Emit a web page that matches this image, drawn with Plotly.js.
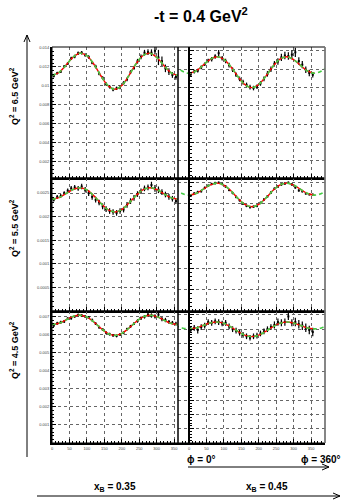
<!DOCTYPE html>
<html><head><meta charset="utf-8">
<script src="https://cdn.plot.ly/plotly-3.0.1.min.js"></script>
<style>html,body{margin:0;padding:0;background:#fff;}#chart{width:342px;height:501px;}</style>
</head><body><div id="chart"></div>
<script>
// ---- data ----
const phiData = [5,15,25,35,45,55,65,75,85,95,105,115,125,135,145,155,165,175,185,195,205,215,225,235,245,255,265,275,285,295,305,315,325,335,345,355];
const phiCurveLeft = [0,20,40,60,80,100,120,140,160,180,200,220,240,260,280,300,320,340,360];
const phiCurveRight = [-40,-20,0,20,40,60,80,100,120,140,160,180,200,220,240,260,280,300,320,340,360,380,400];

// Q2 = 6.5, xB = 0.35
const tlCurve = [0.011105,0.011415,0.012182,0.013008,0.013435,0.013183,0.012282,0.011072,0.010051,0.009655,0.010051,0.011072,0.012282,0.013183,0.013435,0.013008,0.012182,0.011415,0.011105];
const tlData = [0.01105,0.01135,0.0115,0.01205,0.01235,0.0129,0.0131,0.01345,0.0135,0.01325,0.01305,0.01245,0.01205,0.0113,0.01085,0.0102,0.0099,0.00962,0.00975,0.00985,0.0103,0.0107,0.01145,0.0119,0.0126,0.01305,0.0135,0.01355,0.0135,0.0137,0.013,0.0126,0.01185,0.0115,0.01115,0.01095];
const tlErr = [0.00015,0.00015,0.00015,0.00015,0.00015,0.00018,0.00018,0.00018,0.00018,0.00018,0.00018,0.00018,0.00018,0.00018,0.00018,0.00018,0.00018,0.00018,0.00018,0.0002,0.0002,0.0002,0.0002,0.0002,0.00025,0.00025,0.0003,0.0003,0.00035,0.0004,0.0008,0.0005,0.0004,0.00035,0.0003,0.0003];
// Q2 = 6.5, xB = 0.45
const trCurve = [0.012422,0.011813,0.011565,0.011813,0.012422,0.013063,0.013361,0.013087,0.012277,0.01122,0.010337,0.009995,0.010337,0.01122,0.012277,0.013087,0.013361,0.013063,0.012422,0.011813,0.011565,0.011813,0.012422];
const trData = [0.01145,0.01175,0.01185,0.0122,0.01255,0.01295,0.0131,0.0134,0.01375,0.0132,0.0129,0.01245,0.01195,0.0114,0.01095,0.0106,0.0103,0.01005,0.00995,0.0101,0.01045,0.01095,0.0115,0.012,0.0126,0.01285,0.0133,0.0135,0.01345,0.0136,0.01385,0.0129,0.0125,0.01195,0.0116,0.0114];
const trErr = [0.0002,0.0002,0.0002,0.0002,0.0002,0.0002,0.00025,0.00025,0.00035,0.00025,0.00025,0.00025,0.00025,0.00025,0.00025,0.00025,0.00025,0.00025,0.00025,0.00025,0.00025,0.00025,0.0003,0.0003,0.0003,0.00035,0.0004,0.0004,0.0004,0.0005,0.0005,0.0004,0.0004,0.00035,0.00035,0.0003];
// Q2 = 5.5, xB = 0.35
const mlCurve = [0.00237,0.0024045,0.002489,0.002576,0.002613,0.002566,0.002441,0.002282,0.00215,0.0021,0.00215,0.002282,0.002441,0.002566,0.002613,0.002576,0.002489,0.0024045,0.00237];
const mlData = [0.00236,0.00242,0.00244,0.0025,0.00255,0.0026,0.00262,0.0026,0.00264,0.00257,0.0025,0.00242,0.00236,0.0023,0.00222,0.00216,0.00212,0.0021,0.00208,0.00212,0.00215,0.00225,0.00233,0.0024,0.00248,0.00254,0.0026,0.00262,0.00267,0.0026,0.00257,0.00252,0.00247,0.00242,0.00238,0.00233];
const mlErr = [0.00004,0.00004,0.00004,0.00004,0.00005,0.00005,0.00005,0.00005,0.00006,0.00006,0.00006,0.00006,0.00006,0.00006,0.00006,0.00006,0.00006,0.00006,0.00006,0.00006,0.00006,0.00006,0.00006,0.00006,0.00006,0.00006,0.00006,0.00006,0.00007,0.00007,0.00007,0.00006,0.00006,0.00006,0.00006,0.00006];
// Q2 = 5.5, xB = 0.45
const mrCurve = [0.002836,0.002739,0.0027,0.002739,0.002836,0.002936,0.002981,0.002934,0.002801,0.002629,0.002485,0.00243,0.002485,0.002629,0.002801,0.002934,0.002981,0.002936,0.002836,0.002739,0.0027,0.002739,0.002836];
const mrData = [0.00269,0.00274,0.00277,0.00279,0.00287,0.00292,0.00296,0.00298,0.00299,0.00296,0.0029,0.00282,0.00275,0.00266,0.00258,0.0025,0.00245,0.00242,0.00243,0.00245,0.00252,0.0026,0.00267,0.00276,0.00285,0.0029,0.00295,0.00297,0.00299,0.00295,0.00288,0.00281,0.00279,0.00274,0.00272,0.00271];
const mrErr = [0.00003,0.00003,0.00003,0.00003,0.00003,0.00003,0.00003,0.00003,0.00003,0.00003,0.00003,0.00003,0.00003,0.00003,0.00003,0.00003,0.00003,0.00003,0.00003,0.00003,0.00003,0.00003,0.00003,0.00003,0.00003,0.00003,0.00003,0.00003,0.00003,0.00003,0.00003,0.00003,0.00003,0.00003,0.00003,0.00003];
// Q2 = 4.5, xB = 0.35
const blCurve = [0.00655,0.006624,0.006806,0.006993,0.007068,0.006964,0.006693,0.006346,0.00606,0.00595,0.00606,0.006346,0.006693,0.006964,0.007068,0.006993,0.006806,0.006624,0.00655];
const blData = [0.0065,0.00662,0.00668,0.00672,0.00688,0.0069,0.007,0.00708,0.00705,0.007,0.00695,0.0068,0.0066,0.0064,0.00628,0.0061,0.00602,0.00595,0.00592,0.006,0.0061,0.0063,0.00645,0.0066,0.00675,0.0069,0.00698,0.0071,0.00705,0.007,0.0071,0.00685,0.0068,0.0067,0.00665,0.0066];
const blErr = [0.00008,0.00008,0.00008,0.00008,0.00008,0.00008,0.00008,0.00008,0.00008,0.00008,0.00008,0.00008,0.00008,0.00008,0.00008,0.00008,0.00008,0.00008,0.00008,0.00008,0.00008,0.00008,0.00008,0.00008,0.0001,0.0001,0.0001,0.00012,0.00012,0.00012,0.00014,0.00012,0.00012,0.0001,0.0001,0.0001];
// Q2 = 4.5, xB = 0.45
const brCurve = [0.008259,0.008089,0.00802,0.008089,0.008259,0.008433,0.008505,0.008411,0.008163,0.007845,0.007581,0.00748,0.007581,0.007845,0.008163,0.008411,0.008505,0.008433,0.008259,0.008089,0.00802,0.008089,0.008259];
const brData = [0.00795,0.0081,0.00795,0.00815,0.00825,0.0085,0.00845,0.00855,0.0085,0.0084,0.00845,0.0082,0.008,0.0079,0.00775,0.0076,0.0075,0.0074,0.0075,0.00755,0.0077,0.00785,0.008,0.00815,0.0083,0.0085,0.00845,0.0085,0.0089,0.00845,0.0085,0.00835,0.00825,0.0081,0.00795,0.0078];
const brErr = [0.0002,0.0002,0.00025,0.0002,0.0002,0.0002,0.0002,0.0002,0.0002,0.0002,0.0002,0.0002,0.0002,0.0002,0.0002,0.0002,0.0002,0.0002,0.0002,0.0002,0.0002,0.0002,0.0002,0.0002,0.00025,0.00025,0.00025,0.00025,0.00025,0.00025,0.0003,0.0003,0.0003,0.0003,0.0003,0.0003];

// tick labels
const xTicks = [0,50,100,150,200,250,300,350];
const xTickText = ["0","50","100","150","200","250","300","350"];
const topTicks = [0.002,0.004,0.006,0.008,0.01,0.012,0.014];
const topTickText = ["0.002","0.004","0.006","0.008","0.01","0.012","0.014"];
const midTicksL = [0.0005,0.001,0.0015,0.002,0.0025];
const midTickTextL = ["0.0005","0.001","0.0015","0.002","0.0025"];
const midTicksR = [0.0005,0.001,0.0015,0.002,0.0025,0.003];
const botTicksL = [0.001,0.002,0.003,0.004,0.005,0.006,0.007];
const botTickTextL = ["0.001","0.002","0.003","0.004","0.005","0.006","0.007"];
const botTicksR = [0.001,0.002,0.003,0.004,0.005,0.006,0.007,0.008,0.009];

// text
const titleText = "<b>-t = 0.4 GeV<sup>2</sup></b>";
const q2Labels = ["<b>Q<sup>2</sup> = 6.5 GeV<sup>2</sup></b>","<b>Q<sup>2</sup> = 5.5 GeV<sup>2</sup></b>","<b>Q<sup>2</sup> = 4.5 GeV<sup>2</sup></b>"];
const xbLabels = ["<b>x<sub>B</sub> = 0.35</b>","<b>x<sub>B</sub> = 0.45</b>"];
const phiLabels = ["<b>ϕ = 0°</b>","<b>ϕ = 360°</b>"];

// ---- layout helpers ----
const W = 342, H = 501;
const FONT = "Liberation Sans, Arial, sans-serif";
const fx = v => v / W, fy = v => 1 - v / H;
const colL = [fx(52), fx(178)], colR = [fx(178), fx(325)];
const rowT = [fy(178), fy(47)], rowM = [fy(311), fy(178)], rowB = [fy(443), fy(311)];
const rangeL = [0, 361], rangeR = [-31.6, 390.1];

function xAxis(domain, range, anchor, labels) {
  return {domain, range, anchor, tickmode:'array', tickvals:xTicks, ticktext:xTickText,
    showticklabels:labels, tickfont:{size:4, color:'#444', family:FONT},
    ticks:'inside', ticklen:4, tickwidth:1, tickcolor:'#000',
    showline:true, linecolor:'#000', linewidth:2, mirror:false,
    showgrid:true, gridcolor:'#666', griddash:'dot', gridwidth:1, zeroline:false,
    minor:{ticks:'inside', ticklen:2, dtick:10, tick0:0, tickcolor:'#000', tickwidth:1, showgrid:false},
    fixedrange:true};
}
function yAxis(domain, range, anchor, tv, tt, labels, mdt, position) {
  const a = {domain, range, anchor, tickmode:'array', tickvals:tv, ticktext:tt || tv.map(String),
    showticklabels:labels, tickfont:{size:4, color:'#444', family:FONT},
    ticks:'inside', ticklen:4, tickwidth:1, tickcolor:'#000',
    showline:true, linecolor:'#000', linewidth:2,
    showgrid:true, gridcolor:'#666', griddash:'dot', gridwidth:1, zeroline:false,
    minor:{ticks:'inside', ticklen:2, dtick:mdt, tick0:0, tickcolor:'#000', tickwidth:1, showgrid:false},
    fixedrange:true};
  if (position !== undefined) { a.anchor = 'free'; a.position = position; }
  return a;
}

const panels = [
  {xa:'x',  ya:'y',  data:tlData, err:tlErr, curve:tlCurve, right:false},
  {xa:'x2', ya:'y2', data:trData, err:trErr, curve:trCurve, right:true},
  {xa:'x3', ya:'y3', data:mlData, err:mlErr, curve:mlCurve, right:false},
  {xa:'x4', ya:'y4', data:mrData, err:mrErr, curve:mrCurve, right:true},
  {xa:'x5', ya:'y5', data:blData, err:blErr, curve:blCurve, right:false},
  {xa:'x6', ya:'y6', data:brData, err:brErr, curve:brCurve, right:true}
];

const traces = [];
panels.forEach(p => {
  traces.push({type:'scatter', mode:'markers', x:phiData, y:p.data, xaxis:p.xa, yaxis:p.ya,
    marker:{symbol:'square', size:2, color:'#000'},
    error_y:{type:'data', array:p.err, visible:true, thickness:1.2, width:0, color:'#000'},
    hoverinfo:'skip'});
  const gx = p.right ? phiCurveRight : phiCurveLeft;
  const rx = p.right ? phiCurveRight.slice(2, 21) : phiCurveLeft;
  const ry = p.right ? p.curve.slice(2, 21) : p.curve;
  traces.push({type:'scatter', mode:'lines', x:rx, y:ry, xaxis:p.xa, yaxis:p.ya,
    line:{color:'#ff0000', width:1.4, shape:'spline'}, hoverinfo:'skip'});
  traces.push({type:'scatter', mode:'lines', x:gx, y:p.curve, xaxis:p.xa, yaxis:p.ya,
    line:{color:'#44cc44', width:1.6, shape:'spline', dash:'4px,3px'}, hoverinfo:'skip'});
});

const yPosR = fx(189);
const layout = {
  width:W, height:H, margin:{l:0, r:0, t:0, b:0},
  paper_bgcolor:'#fff', plot_bgcolor:'rgba(0,0,0,0)', showlegend:false,
  font:{family:FONT, color:'#000'},
  xaxis:  xAxis(colL, rangeL, 'y', false),
  yaxis:  yAxis(rowT, [0.0003, 0.0141], 'x', topTicks, topTickText, true, 0.0004),
  xaxis2: xAxis(colR, rangeR, 'y2', false),
  yaxis2: yAxis(rowT, [0.00014, 0.01443], 'x2', topTicks, null, false, 0.0004, yPosR),
  xaxis3: xAxis(colL, rangeL, 'y3', false),
  yaxis3: yAxis(rowM, [0, 0.00282], 'x3', midTicksL, midTickTextL, true, 0.0001),
  xaxis4: xAxis(colR, rangeR, 'y4', false),
  yaxis4: yAxis(rowM, [0, 0.0031], 'x4', midTicksR, null, false, 0.0001, yPosR),
  xaxis5: xAxis(colL, rangeL, 'y5', true),
  yaxis5: yAxis(rowB, [0, 0.0073], 'x5', botTicksL, botTickTextL, true, 0.0002),
  xaxis6: xAxis(colR, rangeR, 'y6', true),
  yaxis6: yAxis(rowB, [0, 0.00928], 'x6', botTicksR, null, false, 0.0002, yPosR),
  shapes: [],
  annotations: []
};

const S = layout.shapes;
// panel frames
[[colL,rowT],[colR,rowT],[colL,rowM],[colR,rowM],[colL,rowB],[colR,rowB]].forEach(([c,r]) => {
  S.push({type:'rect', xref:'paper', yref:'paper', x0:c[0], x1:c[1], y0:r[0], y1:r[1],
    line:{color:'#000', width:1}, fillcolor:'rgba(0,0,0,0)', layer:'above'});
});
S.push({type:'line', xref:'paper', yref:'paper', x0:fx(325), x1:fx(325), y0:fy(443), y1:fy(47),
  line:{color:'#888', width:1.5}, layer:'above'});

// arrows (decoration) drawn as shapes
function arrow(x0, y0, x1, y1) {
  S.push({type:'line', xref:'paper', yref:'paper', x0:fx(x0), y0:fy(y0), x1:fx(x1), y1:fy(y1),
    line:{color:'#000', width:1}});
  const dx = x1 - x0, dy = y1 - y0, L = Math.hypot(dx, dy), ux = dx / L, uy = dy / L;
  const hl = 7, hw = 3;
  const bx = x1 - ux * hl, by = y1 - uy * hl;
  const p1 = [bx - uy * hw, by + ux * hw], p2 = [bx + uy * hw, by - ux * hw];
  S.push({type:'path', xref:'paper', yref:'paper',
    path:`M ${fx(p1[0])},${fy(p1[1])} L ${fx(x1)},${fy(y1)} L ${fx(p2[0])},${fy(p2[1])}`,
    line:{color:'#000', width:1}});
}
arrow(27, 457, 27, 35);
arrow(37, 496, 340, 496);
arrow(188, 467, 329, 467);

// text annotations
const A = layout.annotations;
A.push({xref:'paper', yref:'paper', x:fx(201), y:fy(15), text:titleText, showarrow:false,
  xanchor:'center', yanchor:'middle', font:{size:16, family:FONT, color:'#000'}});
[96, 228, 350].forEach((yc, i) => A.push({xref:'paper', yref:'paper', x:fx(14), y:fy(yc), text:q2Labels[i],
  showarrow:false, textangle:-90, xanchor:'center', yanchor:'middle', font:{size:9, family:FONT, color:'#000'}}));
[115, 267].forEach((xc, i) => A.push({xref:'paper', yref:'paper', x:fx(xc), y:fy(487), text:xbLabels[i],
  showarrow:false, xanchor:'center', yanchor:'middle', font:{size:10, family:FONT, color:'#000'}}));
[201, 321].forEach((xc, i) => A.push({xref:'paper', yref:'paper', x:fx(xc), y:fy(459), text:phiLabels[i],
  showarrow:false, xanchor:'center', yanchor:'middle', font:{size:10, family:FONT, color:'#000'}}));

Plotly.newPlot('chart', traces, layout, {staticPlot:true, displayModeBar:false});
</script></body></html>
